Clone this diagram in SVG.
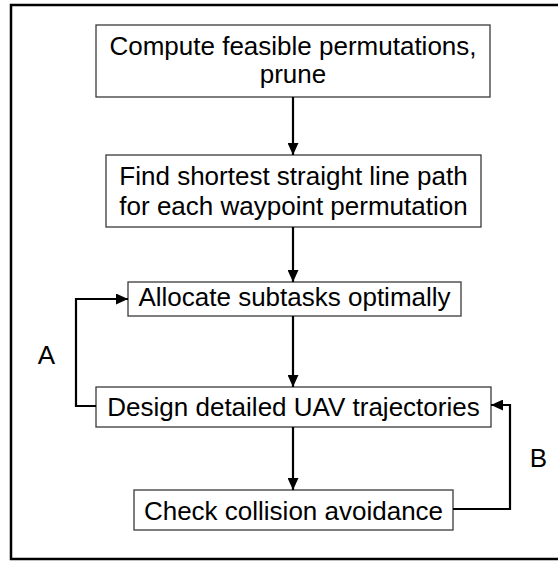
<svg xmlns="http://www.w3.org/2000/svg" width="558" height="561" viewBox="0 0 558 561">
<defs>
<style>
.box{fill:#fff;stroke:#3a3a3a;stroke-width:1.3}
.t{font-family:"Liberation Sans",Arial,sans-serif;font-size:26px;fill:#000;text-anchor:middle}
.c{fill:none;stroke:#000;stroke-width:2.2}
</style>
<marker id="ah" viewBox="0 0 12 11" refX="12" refY="5.5" markerWidth="12" markerHeight="11" markerUnits="userSpaceOnUse" orient="auto">
<path d="M0,0 L12,5.5 L0,11 Z" fill="#000"/>
</marker>
</defs>
<rect width="558" height="561" fill="#fff"/>
<rect id="frame" x="11" y="5" width="560" height="554" fill="none" stroke="#000" stroke-width="2.5"/>
<g id="n1"><rect class="box" x="96" y="25" width="394" height="72"/><text class="t" x="293" y="55">Compute feasible permutations,</text><text class="t" x="293" y="83">prune</text></g>
<g id="n2"><rect class="box" x="106" y="155" width="375" height="72"/><text class="t" x="293.5" y="185">Find shortest straight line path</text><text class="t" x="293.5" y="215">for each waypoint permutation</text></g>
<g id="n3"><rect class="box" x="128" y="282" width="333" height="34"/><text class="t" x="294.5" y="306">Allocate subtasks optimally</text></g>
<g id="n4"><rect class="box" x="96" y="387" width="395" height="40"/><text class="t" x="293.5" y="416">Design detailed UAV trajectories</text></g>
<g id="n5"><rect class="box" x="134" y="490" width="319" height="40"/><text class="t" x="293.5" y="520">Check collision avoidance</text></g>
<g id="connectors">
<line class="c" x1="293" y1="97" x2="293" y2="155" marker-end="url(#ah)"/>
<line class="c" x1="293" y1="227" x2="293" y2="282" marker-end="url(#ah)"/>
<line class="c" x1="293" y1="316" x2="293" y2="387" marker-end="url(#ah)"/>
<line class="c" x1="293" y1="427" x2="293" y2="490" marker-end="url(#ah)"/>
<polyline class="c" points="96,406 76,406 76,299 128,299" marker-end="url(#ah)"/>
<polyline class="c" points="453,509 510,509 510,405 491,405" marker-end="url(#ah)"/>
<text class="t" x="46.5" y="364">A</text>
<text class="t" x="538.5" y="467">B</text>
</g>
</svg>
